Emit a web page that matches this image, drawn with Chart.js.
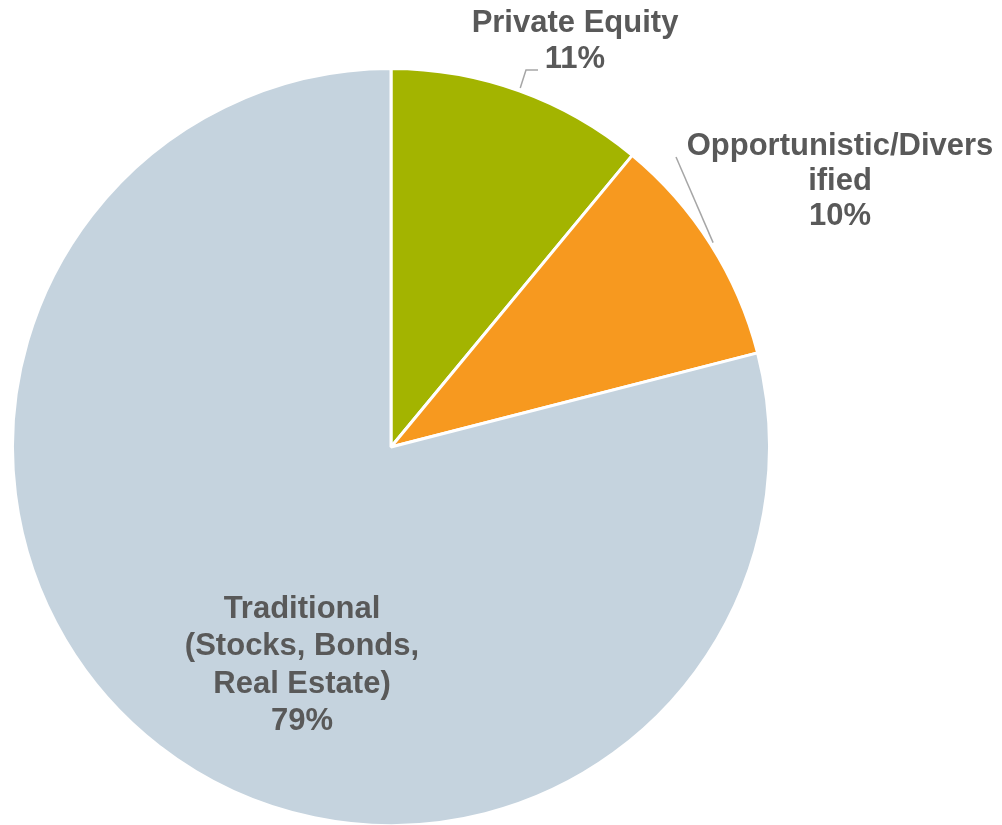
<!DOCTYPE html>
<html>
<head>
<meta charset="utf-8">
<script src="https://cdn.jsdelivr.net/npm/chart.js@4/dist/chart.umd.min.js"></script>
<style>
  html, body { margin: 0; padding: 0; background: #ffffff; overflow: hidden; }
  #wrap { width: 1002px; height: 830px; position: relative; }
</style>
</head>
<body>
<div id="wrap"><canvas id="allocChart"></canvas></div>
<script>
// Chart data
const categories = ["Private Equity", "Opportunistic/Diversified", "Traditional (Stocks, Bonds, Real Estate)"];
const shares = [11, 10, 79];
const labelLines = [
  ["Private Equity"],
  ["Opportunistic/Divers", "ified"],
  ["Traditional", "(Stocks, Bonds,", "Real Estate)"]
];
const sliceColors = ["#A3B400", "#F7991F", "#C5D3DE"];

// Where each label sits (centre x, first line y, line step) and its leader elbow
const labelPlacement = [
  { x: 575, y: 23, step: 36, leader: [[526, 70], [538, 70]] },
  { x: 840, y: 146, step: 35, leader: [[676, 157]] },
  { x: 302, y: 609, step: 37.5, leader: null }
];

const labelPlugin = {
  id: "sliceLabels",
  afterDatasetsDraw(chart) {
    const ctx = chart.ctx;
    const arcs = chart.getDatasetMeta(0).data;
    ctx.save();
    arcs.forEach((arc, i) => {
      const place = labelPlacement[i];
      if (place.leader) {
        const mid = (arc.startAngle + arc.endAngle) / 2;
        const r = arc.outerRadius + 3;
        ctx.beginPath();
        ctx.moveTo(arc.x + Math.cos(mid) * r, arc.y + Math.sin(mid) * r);
        place.leader.forEach((p) => ctx.lineTo(p[0], p[1]));
        ctx.strokeStyle = "#A6A6A6";
        ctx.lineWidth = 1.5;
        ctx.stroke();
      }
      const lines = labelLines[i].concat([shares[i] + "%"]);
      ctx.fillStyle = "#595959";
      ctx.font = "bold 31px 'Liberation Sans', Arial, sans-serif";
      ctx.textAlign = "center";
      ctx.textBaseline = "middle";
      lines.forEach((txt, k) => {
        ctx.fillText(txt, place.x, place.y + k * place.step);
      });
    });
    ctx.restore();
  }
};

new Chart(document.getElementById("allocChart"), {
  type: "pie",
  data: {
    labels: categories,
    datasets: [
      {
        data: shares,
        backgroundColor: sliceColors,
        borderColor: "#ffffff",
        borderWidth: 3
      }
    ]
  },
  options: {
    responsive: true,
    maintainAspectRatio: false,
    animation: false,
    layout: { padding: { left: 11, right: 231, top: 67, bottom: 3 } },
    plugins: {
      legend: { display: false },
      tooltip: { enabled: false }
    }
  },
  plugins: [labelPlugin]
});
</script>
</body>
</html>
